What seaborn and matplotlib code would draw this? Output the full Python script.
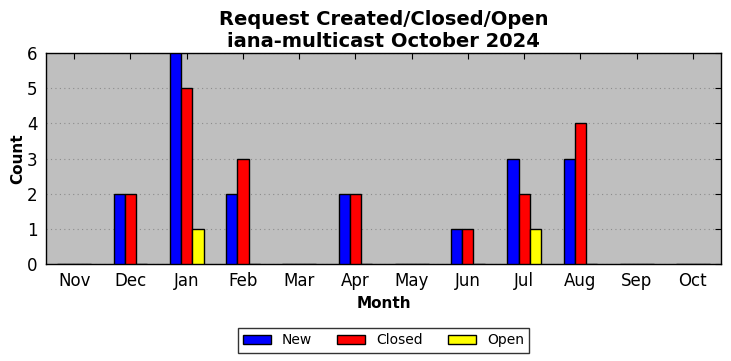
import matplotlib
matplotlib.use("Agg")
import matplotlib.pyplot as plt
import seaborn as sns
import pandas as pd

months = ["Nov", "Dec", "Jan", "Feb", "Mar", "Apr", "May", "Jun", "Jul", "Aug", "Sep", "Oct"]
new_counts = [0, 2, 6, 2, 0, 2, 0, 1, 3, 3, 0, 0]
closed_counts = [0, 2, 5, 3, 0, 2, 0, 1, 2, 4, 0, 0]
open_counts = [0, 0, 1, 0, 0, 0, 0, 0, 1, 0, 0, 0]
series = ["New", "Closed", "Open"]
colors = ["#0000ff", "#ff0000", "#ffff00"]

df = pd.DataFrame({
    "Month": months * 3,
    "Count": new_counts + closed_counts + open_counts,
    "Status": [s for s in series for _ in months],
})

sns.set_style("white")
plt.rcParams["font.family"] = ["DejaVu Sans"]
plt.rcParams["text.color"] = "black"
plt.rcParams["axes.labelcolor"] = "black"
plt.rcParams["xtick.color"] = "black"
plt.rcParams["ytick.color"] = "black"

fig = plt.figure(figsize=(7.31, 3.61), dpi=100)
ax = fig.add_axes([46 / 731, 1 - 264 / 361, 675 / 731, 211 / 361])
ax.set_facecolor("#bfbfbf")

sns.barplot(data=df, x="Month", y="Count", hue="Status", order=months,
            hue_order=series, palette=colors, width=0.6, saturation=1,
            edgecolor="black", linewidth=1, ax=ax, zorder=3)

ax.set_xlim(-0.5, 11.5)
ax.set_ylim(0, 6)
ax.set_yticks(range(7))
ax.yaxis.grid(True, linestyle=(0, (1, 3)), color="#8c8c8c", linewidth=0.8, zorder=0)
ax.xaxis.grid(False)
ax.set_axisbelow(True)
for sp in ax.spines.values():
    sp.set_color("black")
    sp.set_linewidth(1)
ax.tick_params(axis="both", direction="in", length=4, width=0.8, colors="black",
               labelsize=12, top=True, right=True, pad=6)

ax.set_xlabel("Month", fontsize=11, fontweight="bold", color="black")
ax.set_ylabel("Count", fontsize=11, fontweight="bold", color="black", labelpad=1)
ax.set_title("Request Created/Closed/Open\niana-multicast October 2024",
             fontsize=14, fontweight="bold", linespacing=1.2, pad=4, color="black")

handles, labels = ax.get_legend_handles_labels()
leg = ax.legend(handles, labels, loc="upper center", bbox_to_anchor=(0.5, -0.27),
                ncol=3, frameon=True, fancybox=False, edgecolor="black",
                fontsize=10, borderpad=0.4, columnspacing=1.8, handlelength=2.0)
leg.get_frame().set_linewidth(1)
for t in leg.get_texts():
    t.set_color("black")

fig.savefig("out.png", dpi=100)
